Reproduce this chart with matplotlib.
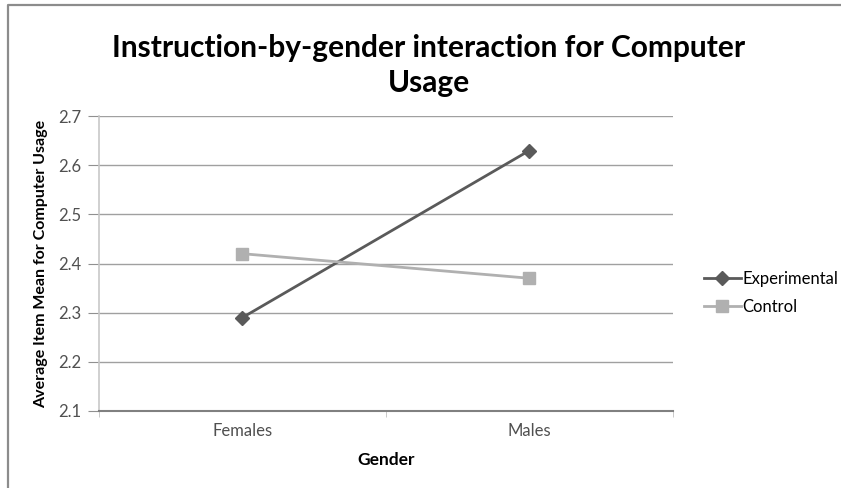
import matplotlib
matplotlib.use('Agg')
import matplotlib.pyplot as plt
from matplotlib.lines import Line2D

# data
genders = ["Females", "Males"]
experimental = [2.29, 2.63]
control = [2.42, 2.37]
y_ticks = [2.1, 2.2, 2.3, 2.4, 2.5, 2.6, 2.7]

plt.rcParams['font.family'] = ['Lato', 'DejaVu Sans']

fig = plt.figure(figsize=(8.41, 4.88), dpi=100)
ax = fig.add_axes([0.1177, 0.158, 0.8823 - 0.1177 - 0.0823, 0.762 - 0.158])

# outer chart frame (Excel style): only top and left edges are inside the image
fx, fy = 8 / 841, 1 - 5 / 488
fig.add_artist(Line2D([fx, fx, 1.0], [0.0, fy, fy], transform=fig.transFigure,
                      color='#8c8c8c', linewidth=1.6))

x = list(range(len(genders)))
ax.plot(x, experimental, color='#5a5a5a', linewidth=2.0, marker='D', markersize=7,
        label='Experimental', zorder=3)
ax.plot(x, control, color='#b0b0b0', linewidth=2.0, marker='s', markersize=8,
        label='Control', zorder=3)

ax.set_xlim(-0.5, 1.5)
ax.set_ylim(2.1, 2.7)
ax.set_yticks(y_ticks)
ax.set_yticklabels([f"{v:.1f}" for v in y_ticks])
ax.set_xticks(x)
ax.set_xticklabels(genders)
ax.set_xticks([-0.5, 0.5, 1.5], minor=True)
ax.tick_params(axis='x', which='major', length=0, pad=9, labelsize=12, labelcolor='#505050')
ax.tick_params(axis='x', which='minor', length=4, color='#c0c0c0')
ax.tick_params(axis='y', length=8, color='#909090', labelsize=12, labelcolor='#505050', pad=5)

ax.grid(axis='y', color='#a0a0a0', linewidth=1.0)
ax.set_axisbelow(True)
for s in ['top', 'right']:
    ax.spines[s].set_visible(False)
ax.spines['left'].set_color('#c8c8c8')
ax.spines['left'].set_linewidth(1.2)
ax.spines['bottom'].set_color('#808080')
ax.spines['bottom'].set_linewidth(1.5)

ax.set_xlabel("Gender", fontsize=12.5, fontweight='bold', labelpad=9)
ax.set_ylabel("Average Item Mean for Computer Usage", fontsize=11.5, fontweight='bold', labelpad=7)

fig.text(0.51, 0.865, "Instruction-by-gender interaction for Computer\nUsage", ha='center', va='center',
         fontsize=21.5, fontweight='bold', linespacing=1.3)

ax.legend(loc='center left', bbox_to_anchor=(1.04, 0.40), frameon=False, fontsize=12,
          handlelength=2.2, handletextpad=0.1, labelspacing=0.75, borderpad=0)

fig.savefig("out.png", dpi=100)
